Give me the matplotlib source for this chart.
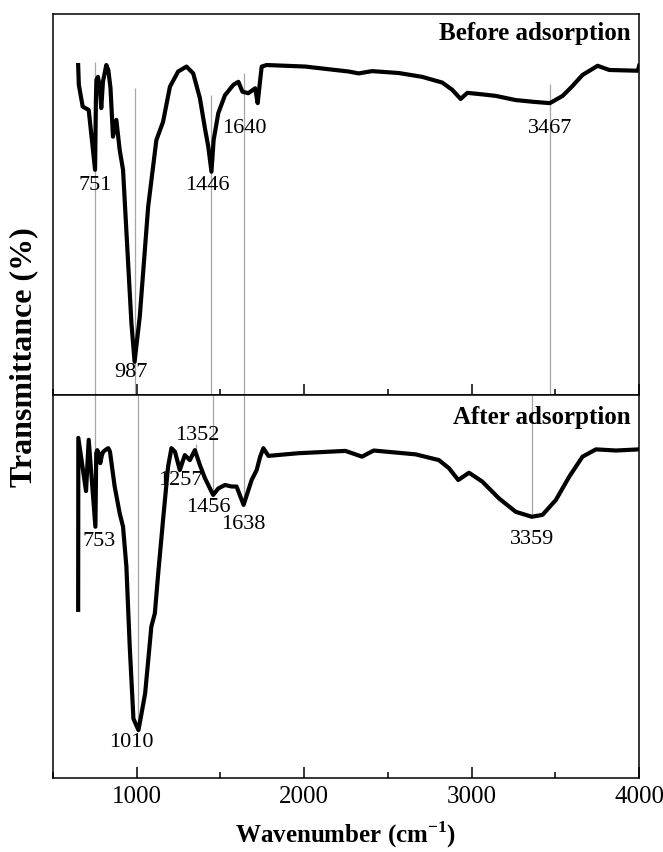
import numpy as np
import matplotlib.pyplot as plt
from matplotlib.ticker import MultipleLocator, NullLocator

plt.rcParams['font.family'] = ['Liberation Serif', 'DejaVu Serif']

# FTIR spectrum before adsorption (wavenumber, transmittance)
wn_before = [650, 654, 677, 713, 751, 756, 759, 768, 779, 788, 798, 818, 830, 843,
             858, 878, 898, 918, 968, 987, 1018, 1068, 1117, 1157, 1198, 1247, 1297,
             1337, 1377, 1407, 1427, 1446, 1459, 1487, 1527, 1577, 1607, 1631, 1666,
             1707, 1722, 1737, 1746, 1776, 2006, 2265, 2325, 2405, 2565, 2704, 2824,
             2884, 2934, 2974, 3063, 3144, 3263, 3380, 3467, 3543, 3600, 3662, 3752,
             3822, 3992, 4000]
t_before = [86.6, 81.4, 75.7, 74.8, 59.1, 77.4, 82.7, 83.5, 80.9, 75.3, 82.2, 86.6,
            85.3, 80.6, 67.8, 72.2, 64.3, 59.1, 18.9, 8.7, 20.6, 49.4, 66.9, 71.7,
            80.9, 84.9, 86.2, 84.4, 77.9, 70.0, 65.2, 58.6, 66.9, 74.0, 78.7, 81.4,
            82.2, 79.6, 79.2, 80.5, 76.6, 82.7, 86.2, 86.6, 86.2, 84.9, 84.4, 85.0,
            84.5, 83.5, 82.0, 80.1, 77.7, 79.3, 78.9, 78.5, 77.4, 76.9, 76.6, 78.5,
            81.0, 84.0, 86.4, 85.3, 85.1, 86.4]

# FTIR spectrum after adsorption
wn_after = [650, 651, 697, 713, 753, 758, 764, 773, 782, 792, 800, 818, 830, 840,
            868, 898, 918, 938, 958, 980, 1010, 1025, 1050, 1087, 1108, 1128, 1157,
            1187, 1207, 1228, 1257, 1287, 1317, 1347, 1377, 1407, 1456, 1487, 1527,
            1567, 1596, 1638, 1686, 1716, 1737, 1756, 1786, 1966, 2246, 2345, 2415,
            2665, 2804, 2864, 2920, 2984, 3063, 3163, 3263, 3359, 3423, 3503, 3583,
            3662, 3742, 3862, 4000]
t_after = [43.9, 88.8, 74.9, 88.3, 65.6, 84.8, 85.6, 84.8, 82.2, 84.3, 85.2, 85.8,
           86.1, 85.2, 76.1, 69.1, 65.6, 55.2, 34.3, 15.5, 12.5, 16.0, 22.1, 39.5,
           43.0, 53.4, 67.4, 81.3, 86.1, 85.2, 80.4, 84.3, 83.0, 85.6, 81.7, 78.3,
           73.9, 75.6, 76.5, 76.1, 76.1, 71.3, 77.8, 80.4, 83.9, 86.1, 84.1, 84.8,
           85.4, 83.9, 85.5, 84.5, 83.0, 80.9, 77.8, 79.7, 77.4, 73.0, 69.5, 68.2,
           68.7, 72.6, 78.7, 83.9, 85.8, 85.5, 85.8]

# labelled bands
peaks_before = [751, 987, 1446, 1640, 3467]
peaks_after = [753, 1010, 1456, 1638, 3359]
# reference lines: top of line in upper panel, bottom of line in lower panel
line_top = [87.4, 80.6, 78.7, 84.5, 81.6]
line_end = [65.6, 12.5, 73.9, 71.3, 68.2]
label_y_before = [55.0, 5.8, 55.0, 70.0, 70.0]
label_y_after = [61.7, 9.2, 70.5, 66.1, 62.3]
label_dx_before = [0, -20, -25, 0, 0]
label_dx_after = [20, -40, -30, 0, 0]

# small marks for the 1257 / 1352 shoulders
minor_peaks = [1257, 1352]
minor_lines = [(80.5, 83.0), (84.9, 87.2)]
minor_label_y = [77.8, 89.4]
minor_label_dx = [5, 10]

fig = plt.figure(figsize=(6.63, 8.52), dpi=100)
ax1 = fig.add_axes([0.080, 0.5364, 0.884, 0.4472])
ax2 = fig.add_axes([0.080, 0.0869, 0.884, 0.4495])

gray = '#a6a6a6'
for ax in (ax1, ax2):
    ax.set_xlim(500, 4000)
    ax.set_ylim(0, 100)
    ax.yaxis.set_major_locator(NullLocator())
    ax.xaxis.set_major_locator(MultipleLocator(1000))
    ax.xaxis.set_minor_locator(MultipleLocator(500))
    ax.tick_params(axis='x', which='major', direction='in', length=8, width=1.1,
                   labelsize=18, pad=6)
    ax.tick_params(axis='x', which='minor', direction='in', length=4, width=1.1)
    for s in ax.spines.values():
        s.set_linewidth(1.1)
ax1.tick_params(axis='x', labelbottom=False)

for x, top, end in zip(peaks_before, line_top, line_end):
    ax1.vlines(x, 0, top, color=gray, lw=0.9, zorder=1)
for x, end in zip(peaks_after, line_end):
    ax2.vlines(x, end, 100, color=gray, lw=0.9, zorder=1)
for x, (lo, hi) in zip(minor_peaks, minor_lines):
    ax2.vlines(x, lo, hi, color=gray, lw=0.9, zorder=1)

ax1.plot(wn_before, t_before, color='black', lw=3, solid_joinstyle='round', zorder=2)
ax2.plot(wn_after, t_after, color='black', lw=3, solid_joinstyle='round', zorder=2)

for x, y, dx in zip(peaks_before, label_y_before, label_dx_before):
    ax1.text(x + dx, y, str(x), fontsize=16, ha='center', va='center')
for x, y, dx in zip(peaks_after, label_y_after, label_dx_after):
    ax2.text(x + dx, y, str(x), fontsize=16, ha='center', va='center')
for x, y, dx in zip(minor_peaks, minor_label_y, minor_label_dx):
    ax2.text(x + dx, y, str(x), fontsize=16, ha='center', va='center')

ax1.text(0.985, 0.948, 'Before adsorption', transform=ax1.transAxes, fontsize=18,
         fontweight='bold', ha='right', va='center')
ax2.text(0.985, 0.94, 'After adsorption', transform=ax2.transAxes, fontsize=18,
         fontweight='bold', ha='right', va='center')

ax2.set_xlabel('Wavenumber (cm$^{\\mathregular{-1}}$)', fontsize=18, fontweight='bold',
               labelpad=8)
fig.text(0.036, 0.581, 'Transmittance (%)', rotation=90, fontsize=23,
         fontweight='bold', ha='center', va='center')

fig.savefig('out.png', dpi=100)
